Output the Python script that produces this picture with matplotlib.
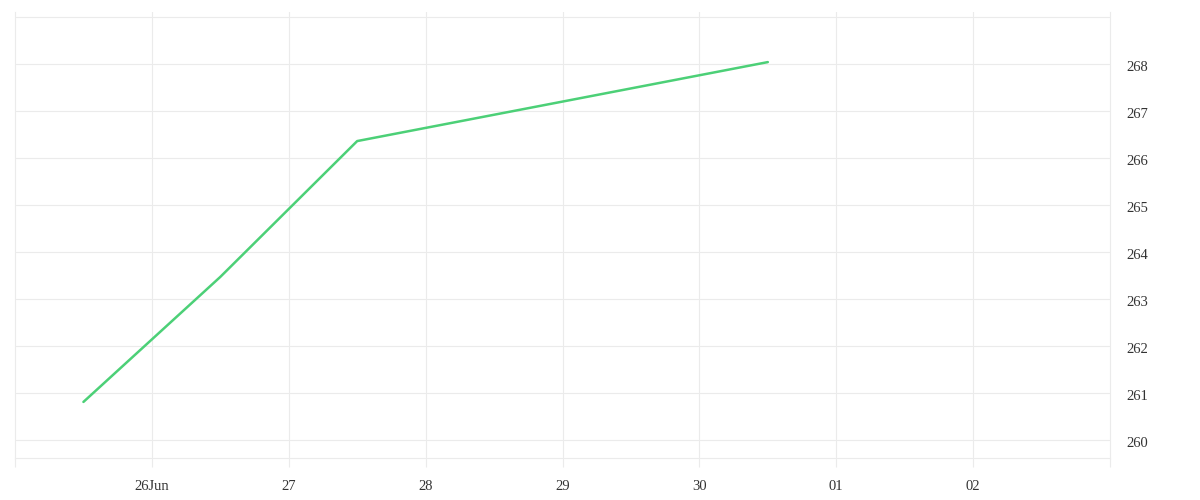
import numpy as np
import pandas as pd
import matplotlib
matplotlib.use("Agg")
from matplotlib import pyplot as plt
import matplotlib.transforms as mtransforms

dates = pd.to_datetime(["2024-06-25 12:00", "2024-06-26 12:00",
                        "2024-06-27 12:00", "2024-06-30 12:00"])
values = [260.81, 263.47, 266.36, 268.04]

x_start, x_end = pd.Timestamp("2024-06-25"), pd.Timestamp("2024-07-03")
tick_days = pd.date_range("2024-06-26", "2024-07-02", freq="D")
tick_labels = ["26Jun", "27", "28", "29", "30", "01", "02"]
y_ticks = np.arange(260, 270)
y_labels = [str(v) for v in y_ticks[:-1]] + [""]

grid_c = "#ebebeb"
plt.rcParams["font.family"] = ["Liberation Serif", "DejaVu Serif"]

fig = plt.figure(figsize=(12, 5), dpi=100)
ax = fig.add_axes([0.0125, 0.084, 0.9125, 0.892])

ax.plot(dates, values, color="#4cd077", lw=1.8, solid_capstyle="round")

ax.set_xlim(x_start, x_end)
ax.set_ylim(259.617, 269.106)

ax.set_xticks(tick_days)
ax.set_xticklabels(tick_labels)
ax.set_xticks([x_start, x_end], minor=True)
ax.set_yticks(y_ticks)
ax.set_yticklabels(y_labels)

ax.yaxis.tick_right()
ax.grid(True, color=grid_c, lw=0.8)
ax.set_axisbelow(True)

ax.spines["top"].set_visible(False)
for side in ["bottom", "left", "right"]:
    ax.spines[side].set_color(grid_c)
    ax.spines[side].set_linewidth(0.8)

ax.tick_params(axis="x", which="both", direction="out", length=6.5,
               color=grid_c, width=0.8, labelsize=10.5, labelcolor="#333333", pad=9)
ax.tick_params(axis="y", length=0, labelsize=10.5, labelcolor="#333333", pad=12)

# nudge y labels slightly below their gridlines
shift = mtransforms.ScaledTranslation(0, -2 / 100, fig.dpi_scale_trans)
for lab in ax.get_yticklabels():
    lab.set_transform(lab.get_transform() + shift)

fig.savefig("out.png", dpi=100, facecolor="white")
